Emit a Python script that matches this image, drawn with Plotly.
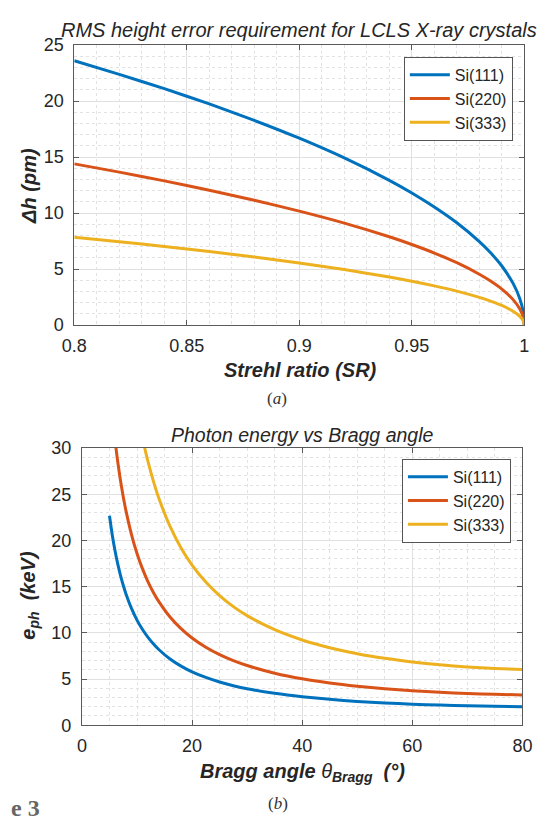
import plotly.graph_objects as go

# ---------------- data ----------------
labels = ["Si(111)", "Si(220)", "Si(333)"]
colors = ["#0072BD", "#D95319", "#EDB120"]

# (a) RMS height error vs Strehl ratio
strehl = [0.80, 0.82, 0.84, 0.86, 0.88, 0.90, 0.92, 0.94, 0.95, 0.96, 0.97,
          0.98, 0.985, 0.99, 0.995, 0.998, 0.9995, 1.0]
dh_111 = [23.6, 22.39, 21.11, 19.75, 18.28, 16.69, 14.93, 12.93, 11.80, 10.55, 9.14,
          7.46, 6.46, 5.28, 3.73, 2.36, 1.18, 0.0]
dh_220 = [14.4, 13.66, 12.88, 12.05, 11.15, 10.18, 9.11, 7.89, 7.20, 6.44, 5.58,
          4.55, 3.94, 3.22, 2.28, 1.44, 0.72, 0.0]
dh_333 = [7.85, 7.45, 7.02, 6.57, 6.08, 5.55, 4.96, 4.30, 3.92, 3.51, 3.04,
          2.48, 2.15, 1.76, 1.24, 0.78, 0.39, 0.0]
x1_ticks = [0.8, 0.85, 0.9, 0.95, 1.0]
x1_ticktext = ["0.8", "0.85", "0.9", "0.95", "1"]

# (b) photon energy vs Bragg angle
theta = [5, 5.5, 6, 6.5, 7, 7.5, 8, 9, 10, 11, 12, 13, 14, 16, 18, 20, 22.5, 25,
         27.5, 30, 35, 40, 45, 50, 55, 60, 65, 70, 75, 80]
e_111 = [22.68, 20.63, 18.91, 17.46, 16.22, 15.15, 14.21, 12.64, 11.38, 10.36, 9.51,
         8.79, 8.17, 7.17, 6.40, 5.78, 5.17, 4.68, 4.28, 3.95, 3.45, 3.08, 2.80,
         2.58, 2.41, 2.28, 2.18, 2.10, 2.05, 2.01]
e_220 = [37.05, 33.69, 30.89, 28.52, 26.50, 24.74, 23.20, 20.64, 18.59, 16.92, 15.53,
         14.35, 13.35, 11.71, 10.45, 9.44, 8.44, 7.64, 6.99, 6.46, 5.63, 5.02, 4.57,
         4.22, 3.94, 3.73, 3.56, 3.44, 3.34, 3.28]
e_333 = [68.05, 61.88, 56.74, 52.39, 48.67, 45.44, 42.62, 37.91, 34.16, 31.08, 28.53,
         26.37, 24.52, 21.52, 19.19, 17.34, 15.50, 14.03, 12.84, 11.86, 10.34, 9.23,
         8.39, 7.74, 7.24, 6.85, 6.54, 6.31, 6.14, 6.02]

top_title = "RMS height error requirement for LCLS X-ray crystals"
bot_title = "Photon energy vs Bragg angle"

# ---------------- figure ----------------
W, H = 542, 824
FONT = "Liberation Sans, Arial, sans-serif"
SERIF = "Liberation Serif, Times New Roman, serif"
TXT = "#262626"


def px_x(p):
    return p / W


def px_y(p):
    return 1 - p / H


fig = go.Figure()

for lab, col, ys in zip(labels, colors, [dh_111, dh_220, dh_333]):
    fig.add_trace(go.Scatter(x=strehl, y=ys, name=lab, mode="lines",
                             line=dict(color=col, width=3, shape="spline", smoothing=0.6),
                             xaxis="x", yaxis="y", legend="legend"))
for lab, col, ys in zip(labels, colors, [e_111, e_220, e_333]):
    fig.add_trace(go.Scatter(x=theta, y=ys, name=lab, mode="lines",
                             line=dict(color=col, width=3, shape="spline", smoothing=0.6),
                             xaxis="x2", yaxis="y2", legend="legend2"))

axis_common = dict(
    showline=True, linecolor="#5a5a5a", linewidth=1, mirror="ticks",
    ticks="inside", ticklen=5, tickcolor="#5a5a5a", tickwidth=1,
    showgrid=True, gridcolor="#e0e0e0", gridwidth=1,
    zeroline=False, tickfont=dict(family=FONT, size=18, color=TXT),
    fixedrange=True,
)


def minor(d):
    return dict(dtick=d, showgrid=True, gridcolor="#e2e2e2", griddash="dot", gridwidth=1, ticks="")


fig.update_layout(
    width=W, height=H, margin=dict(l=0, r=0, t=0, b=0),
    paper_bgcolor="white", plot_bgcolor="white",
    font=dict(family=FONT, color=TXT),
    xaxis=dict(domain=[px_x(64), px_x(534)], range=[0.8, 1.0],
               tickvals=x1_ticks, ticktext=x1_ticktext, ticklabelstandoff=4,
               minor=minor(0.01), anchor="y", **axis_common),
    yaxis=dict(domain=[px_y(323), px_y(36)], range=[0, 25], dtick=5, ticklabelstandoff=6,
               minor=minor(1), anchor="x", **axis_common),
    xaxis2=dict(domain=[px_x(72), px_x(532)], range=[0, 80], dtick=20, ticklabelstandoff=4,
                minor=minor(5), anchor="y2", **axis_common),
    yaxis2=dict(domain=[px_y(733), px_y(449)], range=[0, 30], dtick=5, ticklabelstandoff=6,
                minor=minor(1), anchor="x2", **axis_common),
    legend=dict(x=px_x(522), y=px_y(48), xanchor="right", yanchor="top",
                bgcolor="white", bordercolor="#555", borderwidth=1,
                font=dict(family=FONT, size=16, color=TXT), tracegroupgap=0,
                itemwidth=40),
    legend2=dict(x=px_x(520), y=px_y(460), xanchor="right", yanchor="top",
                 bgcolor="white", bordercolor="#555", borderwidth=1,
                 font=dict(family=FONT, size=16, color=TXT), tracegroupgap=0,
                 itemwidth=40),
    showlegend=True,
)


def note(text, x, y, size, family=FONT, color=TXT, angle=0, xanchor="center"):
    fig.add_annotation(text=text, x=px_x(x), y=px_y(y), xref="paper", yref="paper",
                       xanchor=xanchor, yanchor="middle", showarrow=False, textangle=angle,
                       font=dict(family=family, size=size, color=color))


# titles
note("<i>" + top_title + "</i>", 299, 20, 20)
note("<i>" + bot_title + "</i>", 302, 436, 19.5)
# x-axis labels
note("<b><i>Strehl ratio (SR)</i></b>", 300, 369, 20)
note("<b><i>Bragg angle </i></b><i>θ</i><b><i><sub>Bragg</sub>  (°)</i></b>", 302, 781, 20)
# y-axis labels
note("<b><i>Δh (pm)</i></b>", 16, 180, 20, angle=-90)
note("<b><i>e<sub>ph</sub>  (keV)</i></b>", 17, 600, 20, angle=-90)
# captions
note("(<i>a</i>)", 276, 398, 17, family=SERIF, color="#333")
note("(<i>b</i>)", 277, 813, 17, family=SERIF, color="#333")
note("<b>e 3</b>", -4, 818, 24, family=SERIF, color="#666", xanchor="left")

fig.write_html("out.html",
               config={"displayModeBar": False, "staticPlot": True},
               post_script="document.body.style.margin='0';document.body.style.overflow='hidden';")
